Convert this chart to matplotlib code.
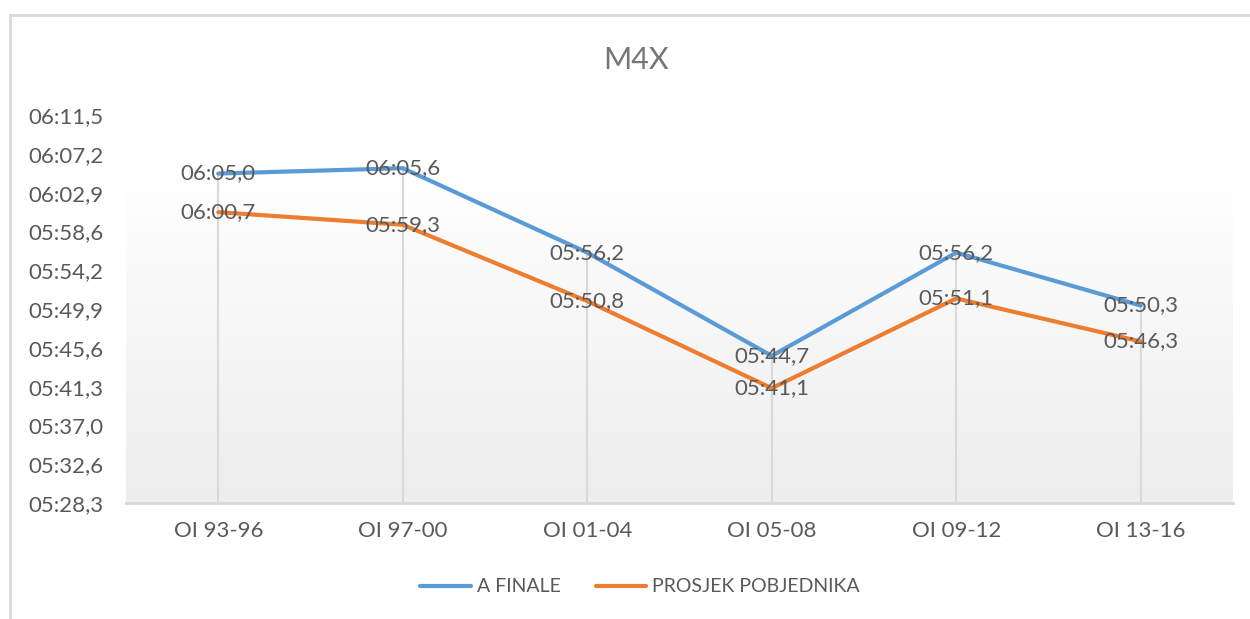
import numpy as np
import matplotlib
matplotlib.use("Agg")
import matplotlib.pyplot as plt
from matplotlib.patches import Rectangle
from matplotlib.ticker import FixedLocator, FuncFormatter

# times in seconds
categories = ["OI 93-96", "OI 97-00", "OI 01-04", "OI 05-08", "OI 09-12", "OI 13-16"]
a_finale = [365.0, 365.6, 356.2, 344.7, 356.2, 350.3]
prosjek_pobjednika = [360.7, 359.3, 350.8, 341.1, 351.1, 346.3]

# excel axis: min 0,0038 day, major unit 0,00005 day
y_ticks_days = [0.0038 + 0.00005 * k for k in range(11)]

BLUE = "#5b9bd5"
ORANGE = "#ed7d31"
TXT = "#595959"
GRID = "#d9d9d9"

plt.rcParams['font.family'] = ['Lato', 'DejaVu Sans']


def fmt_time(s, pos=None):
    m = int(s // 60)
    sec = s - 60 * m
    return f"{m:02d}:{sec:04.1f}".replace('.', ',')


fig = plt.figure(figsize=(12.5, 6.19), dpi=100)
ax = fig.add_axes([126 / 1250, 1 - 503 / 619, (1233 - 126) / 1250, (503 - 115) / 619])

yticks = [d * 86400 for d in y_ticks_days]
ymin, ymax = yticks[0], yticks[-1]
x = np.arange(len(categories))

# gradient background of plot area
grad = np.concatenate([np.ones(40), np.linspace(1.0, 0.93, 216)]).reshape(-1, 1)
ax.imshow(np.dstack([grad, grad, grad]), aspect='auto', extent=(-0.5, 5.5, ymin, ymax),
          origin='upper', zorder=0)

# drop lines
tops = np.maximum(a_finale, prosjek_pobjednika)
ax.vlines(x, ymin, tops, color=GRID, lw=1.5, zorder=1)

ax.plot(x, a_finale, color=BLUE, lw=3, solid_capstyle='round', zorder=3, label="A FINALE")
ax.plot(x, prosjek_pobjednika, color=ORANGE, lw=3, solid_capstyle='round', zorder=3,
        label="PROSJEK POBJEDNIKA")

for xi, v in zip(x, a_finale):
    ax.text(xi, v, fmt_time(v), ha='center', va='center', fontsize=16, color=TXT, zorder=4)
for xi, v in zip(x, prosjek_pobjednika):
    ax.text(xi, v, fmt_time(v), ha='center', va='center', fontsize=16, color=TXT, zorder=4)

ax.set_xlim(-0.5, 5.5)
ax.set_ylim(ymin, ymax)
ax.yaxis.set_major_locator(FixedLocator(yticks))
ax.yaxis.set_major_formatter(FuncFormatter(fmt_time))
ax.set_xticks(x)
ax.set_xticklabels(categories)
ax.tick_params(axis='both', length=0, labelsize=16, labelcolor=TXT)
ax.tick_params(axis='y', pad=16)
ax.tick_params(axis='x', pad=13)
for s in ['top', 'right', 'left']:
    ax.spines[s].set_visible(False)
ax.spines['bottom'].set_color(GRID)
ax.spines['bottom'].set_linewidth(2)

fig.text(636 / 1250, 1 - 60 / 619, "M4X", ha='center', va='center', fontsize=22, color="#767676")

leg = fig.legend(loc='center', bbox_to_anchor=(640 / 1250, 1 - 587 / 619), ncol=2, frameon=False,
                 fontsize=14, handlelength=2.6, handletextpad=0.3, columnspacing=1.8,
                 labelcolor=TXT)

# chart border
fig.patches.append(Rectangle((10 / 1250, -0.1), 1.2, 1 - 15 / 619 + 0.1, transform=fig.transFigure,
                             fill=False, edgecolor=GRID, lw=2, zorder=0))

fig.savefig("out.png", dpi=100, facecolor='white')
